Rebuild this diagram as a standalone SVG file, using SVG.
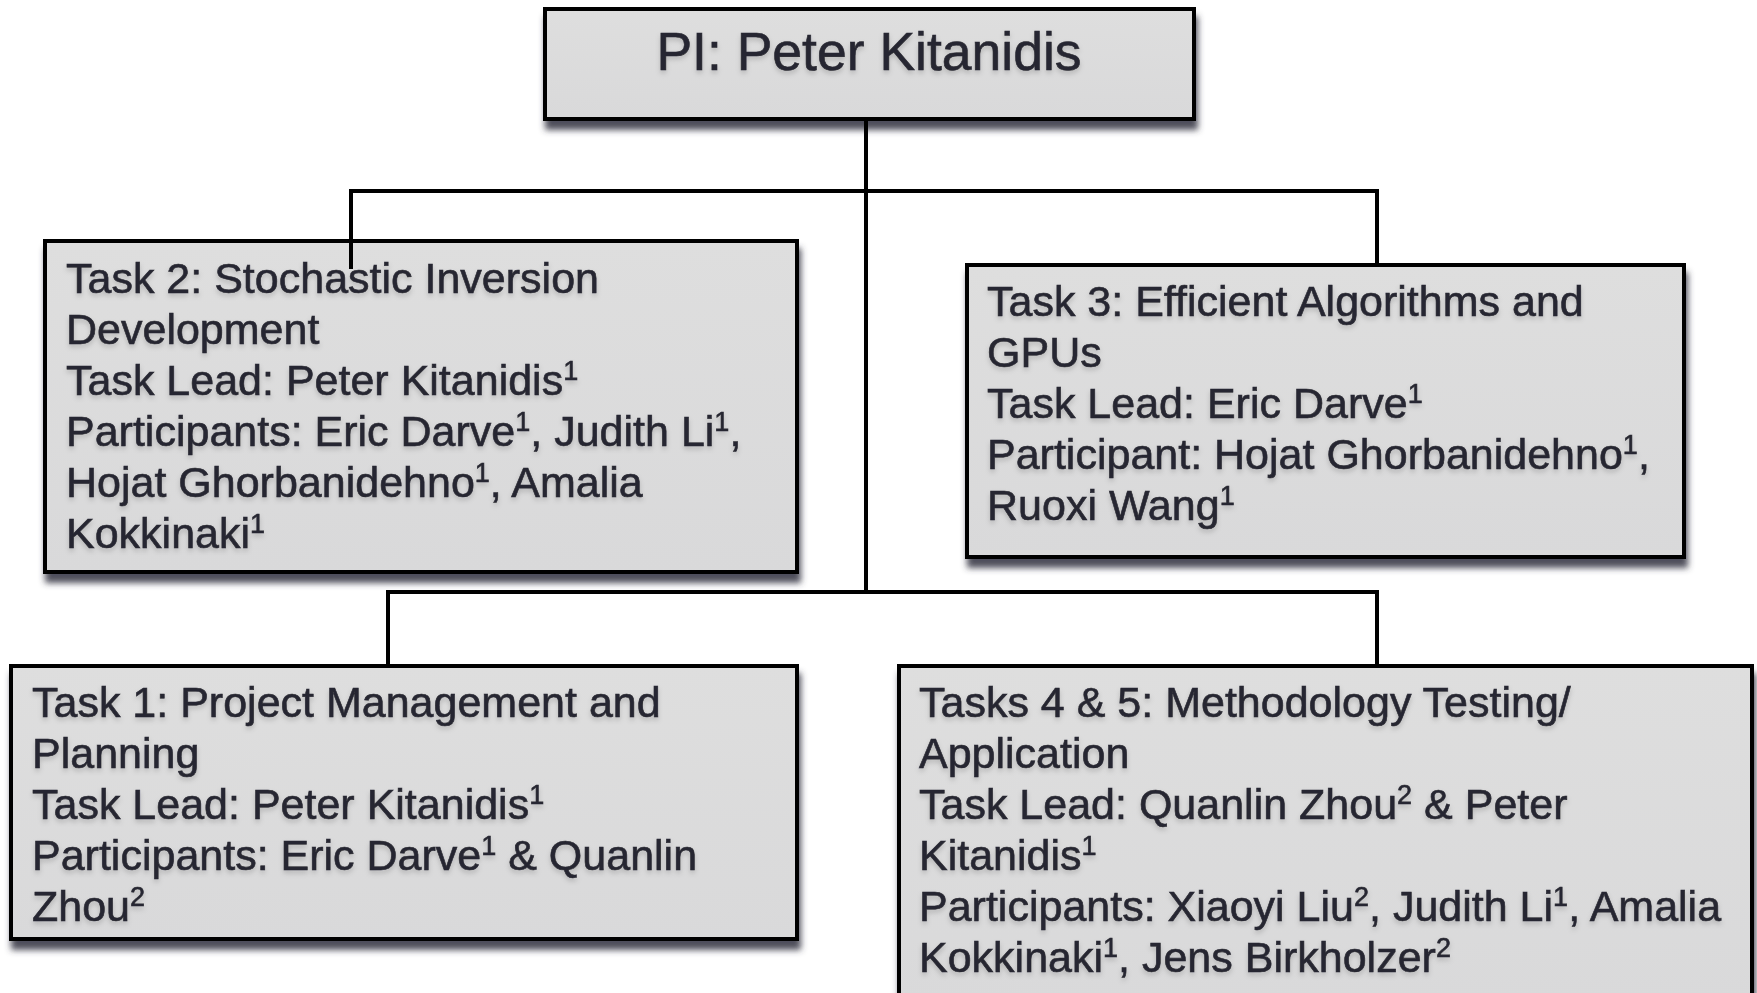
<svg xmlns="http://www.w3.org/2000/svg" width="1757" height="993" viewBox="0 0 1757 993">
  <defs>
    <filter id="shadow" x="-5%" y="-10%" width="115%" height="130%">
      <feGaussianBlur in="SourceAlpha" stdDeviation="3"/>
      <feOffset dx="2" dy="9" result="ob"/>
      <feFlood flood-color="#3c3c4a" flood-opacity="0.9"/>
      <feComposite in2="ob" operator="in"/>
      <feMerge><feMergeNode/><feMergeNode in="SourceGraphic"/></feMerge>
    </filter>
    <filter id="tshadow" x="-5%" y="-20%" width="110%" height="140%">
      <feGaussianBlur in="SourceAlpha" stdDeviation="2.5"/>
      <feOffset dx="0" dy="3" result="ob"/>
      <feFlood flood-color="#000" flood-opacity="0.18"/>
      <feComposite in2="ob" operator="in"/>
      <feMerge><feMergeNode/><feMergeNode in="SourceGraphic"/></feMerge>
    </filter>
    <linearGradient id="boxfill" x1="0" y1="0" x2="0" y2="1">
      <stop offset="0" stop-color="#dedede"/>
      <stop offset="1" stop-color="#d9d9da"/>
    </linearGradient>
  </defs>
  <style>
    .box { fill: url(#boxfill); stroke: #000; stroke-width: 4; }
    .t { font-family: "Liberation Sans", Arial, Helvetica, sans-serif; font-size: 43px; fill: #282831; stroke: #282831; stroke-width: 0.6px; }
    .title { font-family: "Liberation Sans", Arial, Helvetica, sans-serif; font-size: 53.5px; fill: #282831; stroke: #282831; stroke-width: 0.6px; }
    .sup { font-size: 27px; }
    .conn { stroke: #000; stroke-width: 4; fill: none; stroke-linecap: square; }
  </style>
  <rect width="1757" height="993" fill="#ffffff"/>

  <g id="pi">
    <rect class="box" x="545" y="9" width="649" height="110" filter="url(#shadow)"/>
    <text class="title" x="869" y="70" text-anchor="middle" filter="url(#tshadow)">PI: Peter Kitanidis</text>
  </g>

  <g id="task2">
    <rect class="box" x="45" y="241" width="752" height="331" filter="url(#shadow)"/>
    <text class="t" filter="url(#tshadow)">
      <tspan x="66" y="293">Task 2: Stochastic Inversion</tspan>
      <tspan x="66" y="344">Development</tspan>
      <tspan x="66" y="395">Task Lead: Peter Kitanidis<tspan class="sup" dy="-15">1</tspan></tspan>
      <tspan x="66" y="446">Participants: Eric Darve<tspan class="sup" dy="-15">1</tspan><tspan dy="15">, Judith Li</tspan><tspan class="sup" dy="-15">1</tspan><tspan dy="15">,</tspan></tspan>
      <tspan x="66" y="497">Hojat Ghorbanidehno<tspan class="sup" dy="-15">1</tspan><tspan dy="15">, Amalia</tspan></tspan>
      <tspan x="66" y="548">Kokkinaki<tspan class="sup" dy="-15">1</tspan></tspan>
    </text>
  </g>

  <g id="task3">
    <rect class="box" x="967" y="265" width="717" height="292" filter="url(#shadow)"/>
    <text class="t" filter="url(#tshadow)">
      <tspan x="987" y="316">Task 3: Efficient Algorithms and</tspan>
      <tspan x="987" y="367">GPUs</tspan>
      <tspan x="987" y="418">Task Lead: Eric Darve<tspan class="sup" dy="-15">1</tspan></tspan>
      <tspan x="987" y="469">Participant: Hojat Ghorbanidehno<tspan class="sup" dy="-15">1</tspan><tspan dy="15">,</tspan></tspan>
      <tspan x="987" y="520">Ruoxi Wang<tspan class="sup" dy="-15">1</tspan></tspan>
    </text>
  </g>

  <g id="task1">
    <rect class="box" x="11" y="666" width="786" height="273" filter="url(#shadow)"/>
    <text class="t" filter="url(#tshadow)">
      <tspan x="32" y="717">Task 1: Project Management and</tspan>
      <tspan x="32" y="768">Planning</tspan>
      <tspan x="32" y="819">Task Lead: Peter Kitanidis<tspan class="sup" dy="-15">1</tspan></tspan>
      <tspan x="32" y="870">Participants: Eric Darve<tspan class="sup" dy="-15">1</tspan><tspan dy="15"> &amp; Quanlin</tspan></tspan>
      <tspan x="32" y="921">Zhou<tspan class="sup" dy="-15">2</tspan></tspan>
    </text>
  </g>

  <g id="task45">
    <rect class="box" x="899" y="666" width="853" height="340" filter="url(#shadow)"/>
    <text class="t" filter="url(#tshadow)">
      <tspan x="919" y="717">Tasks 4 &amp; 5: Methodology Testing/</tspan>
      <tspan x="919" y="768">Application</tspan>
      <tspan x="919" y="819">Task Lead: Quanlin Zhou<tspan class="sup" dy="-15">2</tspan><tspan dy="15"> &amp; Peter</tspan></tspan>
      <tspan x="919" y="870">Kitanidis<tspan class="sup" dy="-15">1</tspan></tspan>
      <tspan x="919" y="921">Participants: Xiaoyi Liu<tspan class="sup" dy="-15">2</tspan><tspan dy="15">, Judith Li</tspan><tspan class="sup" dy="-15">1</tspan><tspan dy="15">, Amalia</tspan></tspan>
      <tspan x="919" y="972">Kokkinaki<tspan class="sup" dy="-15">1</tspan><tspan dy="15">, Jens Birkholzer</tspan><tspan class="sup" dy="-15">2</tspan></tspan>
    </text>
  </g>

  <g id="connectors">
    <line class="conn" x1="866" y1="121" x2="866" y2="592"/>
    <polyline class="conn" points="351,267 351,191 1377,191 1377,263"/>
    <polyline class="conn" points="388,664 388,592 1377,592 1377,664"/>
  </g>
</svg>
